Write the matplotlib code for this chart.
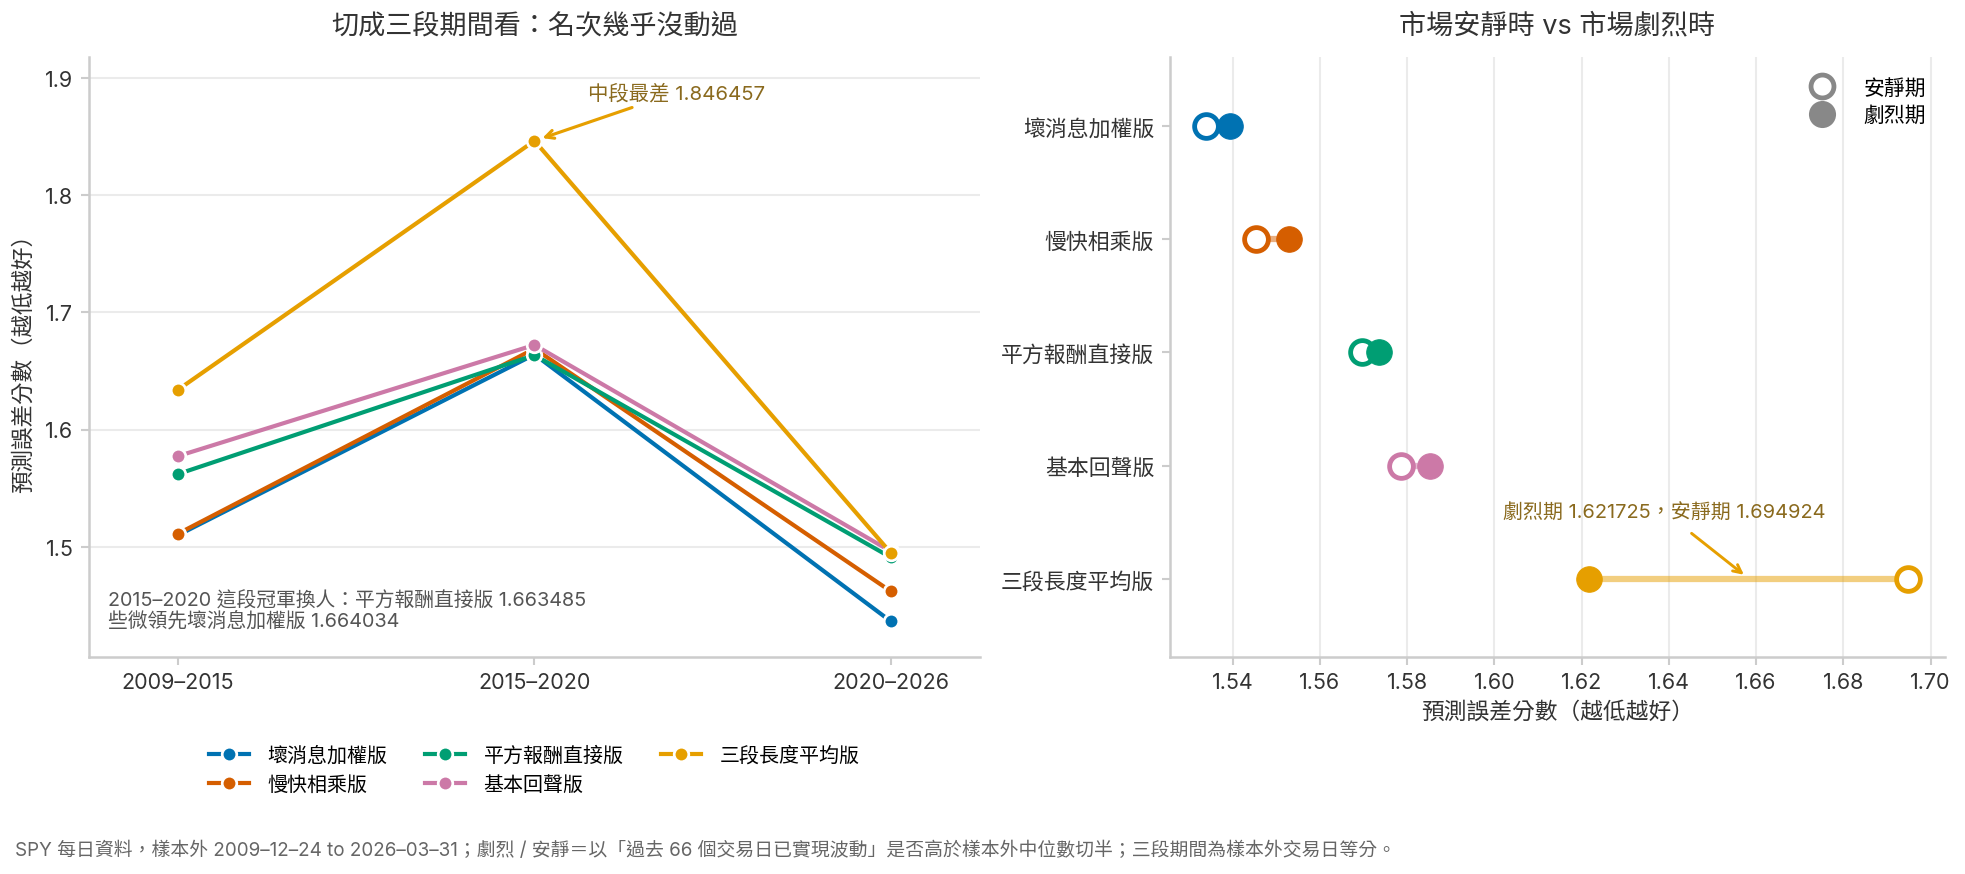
import matplotlib
matplotlib.use("Agg")
import matplotlib.pyplot as plt
from matplotlib.lines import Line2D

plt.rcParams['font.family'] = ['Inter', 'Noto Sans CJK TC', 'DejaVu Sans']

# ---------------- data ----------------
periods = ["2009–2015", "2015–2020", "2020–2026"]
models = ["壞消息加權版", "慢快相乘版", "平方報酬直接版", "基本回聲版", "三段長度平均版"]
colors = ["#0072B2", "#D55E00", "#009E73", "#CC79A7", "#E69F00"]

score_bad_news = [1.5098, 1.664034, 1.4362]
score_slow_fast = [1.5111, 1.6690, 1.4618]
score_sq_return = [1.5620, 1.663485, 1.4908]
score_basic_echo = [1.5773, 1.6722, 1.4960]
score_three_seg = [1.6340, 1.846457, 1.4946]
period_scores = [score_bad_news, score_slow_fast, score_sq_return,
                 score_basic_echo, score_three_seg]

quiet_scores = [1.5338, 1.5454, 1.5697, 1.5787, 1.694924]
volatile_scores = [1.5394, 1.5530, 1.5735, 1.5853, 1.621725]

yticks_left = [1.5, 1.6, 1.7, 1.8, 1.9]
xticks_right = [1.54, 1.56, 1.58, 1.60, 1.62, 1.64, 1.66, 1.68, 1.70]

# ---------------- figure ----------------
fig = plt.figure(figsize=(13.1, 5.8333), dpi=150)
ax1 = fig.add_axes([0.0453, 0.2483, 0.4534, 0.6854])
ax2 = fig.add_axes([0.5953, 0.2483, 0.3943, 0.6854])

spine_c = "#cccccc"
grid_c = "#ebebeb"
tick_c = "#333333"

for ax in (ax1, ax2):
    for s in ("top", "right"):
        ax.spines[s].set_visible(False)
    for s in ("left", "bottom"):
        ax.spines[s].set_color(spine_c)
        ax.spines[s].set_linewidth(1.2)
    ax.tick_params(colors=spine_c, labelcolor=tick_c, labelsize=10.3, length=4, width=1)
    ax.set_axisbelow(True)

# ---------------- left panel ----------------
xs = list(range(len(periods)))
for name, col, vals in zip(models, colors, period_scores):
    ax1.plot(xs, vals, color=col, lw=2.0, marker="o", markersize=7,
             markeredgecolor="white", markeredgewidth=1.3, label=name)

ax1.set_xticks(xs)
ax1.set_xticklabels(periods)
ax1.set_yticks(yticks_left)
ax1.set_xlim(-0.25, 2.25)
ax1.set_ylim(1.406, 1.918)
ax1.yaxis.grid(True, color=grid_c, lw=1)
ax1.set_ylabel("預測誤差分數（越低越好）", fontsize=10.8, color=tick_c, labelpad=5)
ax1.set_title("切成三段期間看：名次幾乎沒動過", fontsize=13, color=tick_c, pad=12)

ax1.annotate("中段最差 1.846457", xy=(1, score_three_seg[1]), xytext=(1.40, 1.888),
             ha="center", va="center", fontsize=9.8, color="#8a6a1e",
             arrowprops=dict(arrowstyle="->", color="#E69F00", lw=1.5,
                             shrinkA=2, shrinkB=4))

ax1.text(0.021, 0.045,
         "2015–2020 這段冠軍換人：平方報酬直接版 1.663485\n些微領先壞消息加權版 1.664034",
         transform=ax1.transAxes, fontsize=9.5, color="#555555",
         ha="left", va="bottom", linespacing=1.05)

ax1.legend(loc="upper center", bbox_to_anchor=(0.5, -0.118), ncol=3, frameon=False,
           fontsize=9.6, handlelength=2.0, columnspacing=1.9, labelspacing=0.5,
           handletextpad=0.9)

# ---------------- right panel ----------------
ys = list(range(len(models)))
for y, col, q, v in zip(ys, colors, quiet_scores, volatile_scores):
    ax2.plot([q, v], [y, y], color=col, lw=3, alpha=0.5, zorder=2, solid_capstyle="butt")
    ax2.scatter([q], [y], s=130, facecolor="white", edgecolor=col, linewidth=2.3, zorder=3)
    ax2.scatter([v], [y], s=150, facecolor=col, edgecolor=col, linewidth=0.5, zorder=4)

ax2.set_yticks(ys)
ax2.set_yticklabels(models)
ax2.set_xticks(xticks_right)
ax2.set_xticklabels([f"{t:.2f}" for t in xticks_right])
ax2.set_xlim(1.5256, 1.7032)
ax2.set_ylim(4.69, -0.61)
ax2.xaxis.grid(True, color=grid_c, lw=1)
ax2.tick_params(axis="y", labelsize=10.5)
ax2.set_xlabel("預測誤差分數（越低越好）", fontsize=10.9, color=tick_c, labelpad=4)
ax2.set_title("市場安靜時 vs 市場劇烈時", fontsize=13, color=tick_c, pad=12)

mid = (quiet_scores[4] + volatile_scores[4]) / 2
ax2.annotate("劇烈期 1.621725，安靜期 1.694924", xy=(mid, 4), xytext=(1.639, 3.41),
             ha="center", va="center", fontsize=9.6, color="#8a6a1e",
             arrowprops=dict(arrowstyle="->", color="#E69F00", lw=1.4,
                             shrinkA=6, shrinkB=3))

leg_handles = [
    Line2D([], [], marker="o", linestyle="none", markersize=11,
           markerfacecolor="white", markeredgecolor="#888888", markeredgewidth=2.3,
           label="安靜期"),
    Line2D([], [], marker="o", linestyle="none", markersize=12,
           markerfacecolor="#888888", markeredgecolor="#888888", label="劇烈期"),
]
ax2.legend(handles=leg_handles, loc="upper right", frameon=False, fontsize=10,
           bbox_to_anchor=(1.0, 0.997), labelspacing=0.35, handletextpad=1.0)

fig.text(0.0076, 0.028,
         "SPY 每日資料，樣本外 2009–12–24 to 2026–03–31；劇烈 / 安靜＝以「過去 66 個交易日已實現波動」"
         "是否高於樣本外中位數切半；三段期間為樣本外交易日等分。",
         fontsize=9.05, color="#666666", ha="left", va="center")

fig.savefig("out.png", dpi=150)
